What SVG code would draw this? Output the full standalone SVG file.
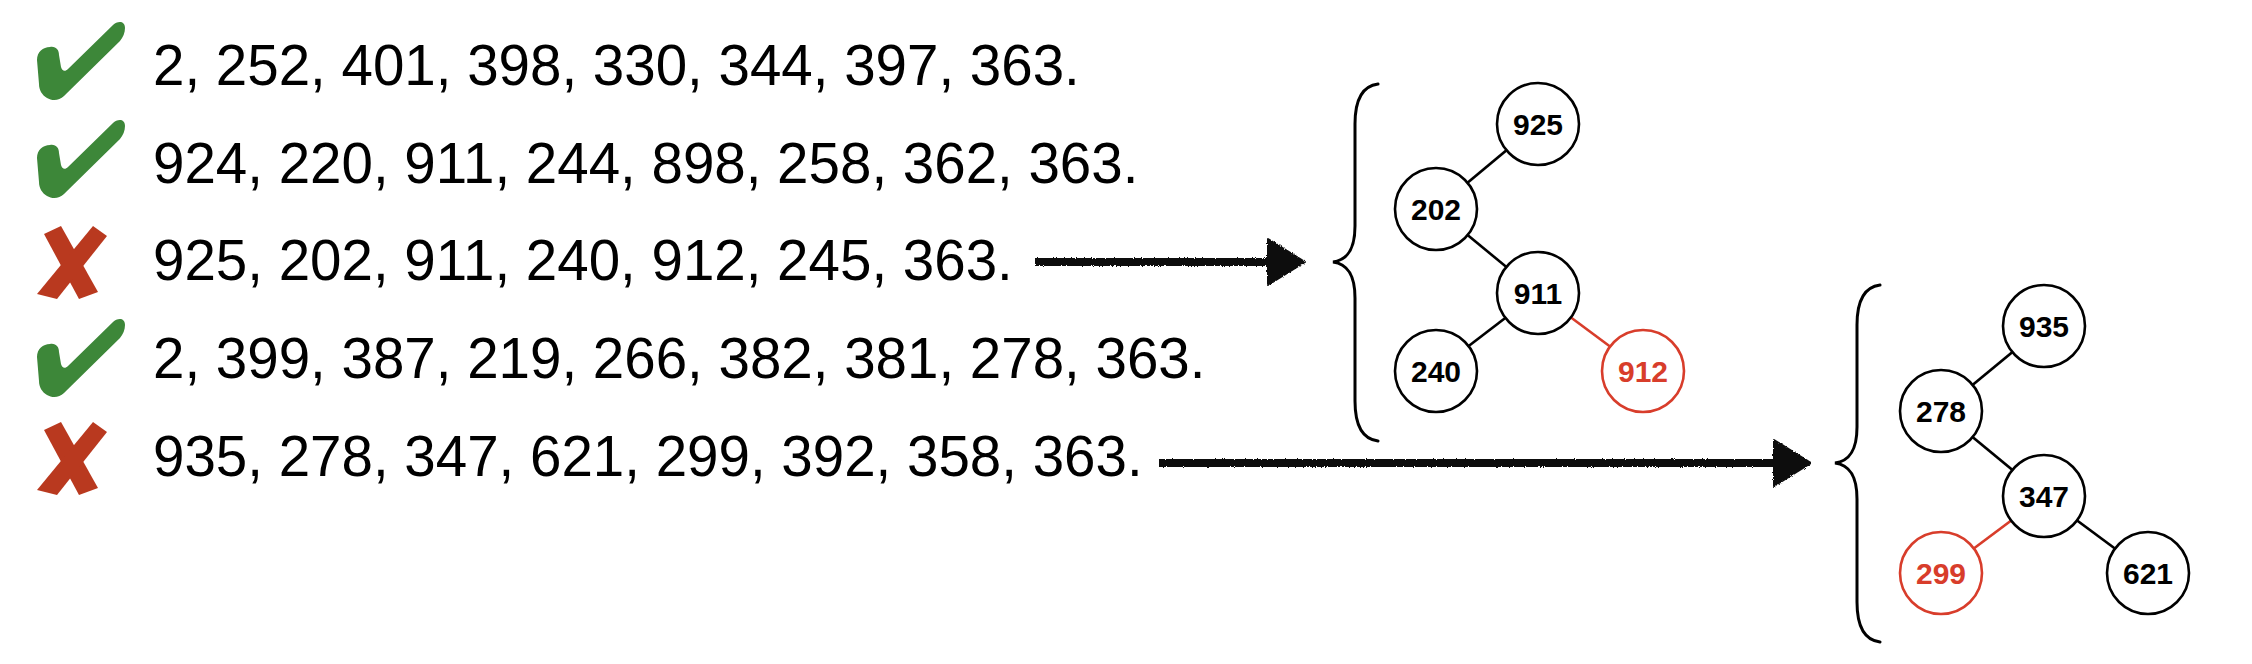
<svg xmlns="http://www.w3.org/2000/svg" width="2252" height="664" viewBox="0 0 2252 664">
<style>
.row{font-family:"Liberation Sans",Arial,Helvetica,sans-serif;font-size:56.5px;fill:#000}
.nt{font-family:"Liberation Sans",Arial,Helvetica,sans-serif;font-size:30px;font-weight:bold;fill:#000;text-anchor:middle}
.nt.red{fill:#d83d2b}
.nc{fill:#fff;stroke:#000;stroke-width:2.6}
.nc.red{stroke:#d83d2b}
.edge{stroke:#000;stroke-width:2.6;fill:none}
.edge.red{stroke:#d83d2b}
.brace{stroke:#000;stroke-width:3;fill:none;stroke-linecap:round}
.arrow{stroke:#111;stroke-width:8;fill:none}
.ok{fill:#3d8739}
.bad{fill:#b9391f}
</style>
<defs>
<filter id="rough" x="-5%" y="-50%" width="110%" height="200%">
<feTurbulence type="fractalNoise" baseFrequency="0.9" numOctaves="2" seed="3" result="n"/>
<feDisplacementMap in="SourceGraphic" in2="n" scale="3" xChannelSelector="R" yChannelSelector="G"/>
</filter>
<marker id="head" markerUnits="userSpaceOnUse" viewBox="0 0 40 50" markerWidth="40" markerHeight="50" refX="1" refY="25" orient="auto">
<path d="M1,2 L38,25 L1,48 Z" fill="#111" stroke="#111" stroke-width="2" stroke-linejoin="round"/>
</marker>
<path id="check" d="M50 47 C56 46 59 50 59 55 L61 67 C62 71 65 72 68 69 L113 25 C117 21 125 20 125 28 C125 33 123 37 120 41 L64 96 C59 101 52 101 47 98 C42 95 39 90 39 84 L37 60 C37 52 43 47 50 47 Z"/>
<g id="cross">
<path d="M44 234 L61 226 L98 292 L79 299 Z"/>
<path d="M93 226 L107 236 L57 299 L37 294 Z"/>
</g>
</defs>
<rect width="2252" height="664" fill="#fff"/>

<g id="marks">
<use href="#check" class="ok"/>
<use href="#check" class="ok" transform="translate(0,98)"/>
<use href="#cross" class="bad"/>
<use href="#check" class="ok" transform="translate(0,297)"/>
<use href="#cross" class="bad" transform="translate(0,196)"/>
</g>

<g id="rows">
<text class="row" x="153" y="85">2, 252, 401, 398, 330, 344, 397, 363.</text>
<text class="row" x="153" y="183">924, 220, 911, 244, 898, 258, 362, 363.</text>
<text class="row" x="153" y="280">925, 202, 911, 240, 912, 245, 363.</text>
<text class="row" x="153" y="378">2, 399, 387, 219, 266, 382, 381, 278, 363.</text>
<text class="row" x="153" y="476">935, 278, 347, 621, 299, 392, 358, 363.</text>
</g>

<g id="connectors">
<g filter="url(#rough)">
<line class="arrow" x1="1035" y1="262" x2="1268" y2="262" marker-end="url(#head)"/>
<line class="arrow" x1="1159" y1="463" x2="1774" y2="463" marker-end="url(#head)"/>
</g>
<path class="brace" d="M1378,84 C1362,86 1355,100 1355,124 L1355,226 C1355,250 1347,260 1333,262 C1347,264 1355,274 1355,298 L1355,401 C1355,425 1362,439 1378,441"/>
<path class="brace" d="M1880,285 C1864,287 1857,301 1857,325 L1857,427 C1857,451 1849,461 1835,463 C1849,465 1857,475 1857,499 L1857,602 C1857,626 1864,640 1880,642"/>
<line class="edge" x1="1538" y1="124" x2="1436" y2="209"/>
<line class="edge" x1="1436" y1="209" x2="1538" y2="293"/>
<line class="edge" x1="1538" y1="293" x2="1436" y2="371"/>
<line class="edge red" x1="1538" y1="293" x2="1643" y2="371"/>
<line class="edge" x1="2044" y1="326" x2="1941" y2="411"/>
<line class="edge" x1="1941" y1="411" x2="2044" y2="496"/>
<line class="edge red" x1="2044" y1="496" x2="1941" y2="573"/>
<line class="edge" x1="2044" y1="496" x2="2148" y2="573"/>
</g>

<g id="n925"><circle class="nc" cx="1538" cy="124" r="41"/><text class="nt" x="1538" y="135">925</text></g>
<g id="n202"><circle class="nc" cx="1436" cy="209" r="41"/><text class="nt" x="1436" y="220">202</text></g>
<g id="n911"><circle class="nc" cx="1538" cy="293" r="41"/><text class="nt" x="1538" y="304">911</text></g>
<g id="n240"><circle class="nc" cx="1436" cy="371" r="41"/><text class="nt" x="1436" y="382">240</text></g>
<g id="n912"><circle class="nc red" cx="1643" cy="371" r="41"/><text class="nt red" x="1643" y="382">912</text></g>

<g id="n935"><circle class="nc" cx="2044" cy="326" r="41"/><text class="nt" x="2044" y="337">935</text></g>
<g id="n278"><circle class="nc" cx="1941" cy="411" r="41"/><text class="nt" x="1941" y="422">278</text></g>
<g id="n347"><circle class="nc" cx="2044" cy="496" r="41"/><text class="nt" x="2044" y="507">347</text></g>
<g id="n299"><circle class="nc red" cx="1941" cy="573" r="41"/><text class="nt red" x="1941" y="584">299</text></g>
<g id="n621"><circle class="nc" cx="2148" cy="573" r="41"/><text class="nt" x="2148" y="584">621</text></g>
</svg>
